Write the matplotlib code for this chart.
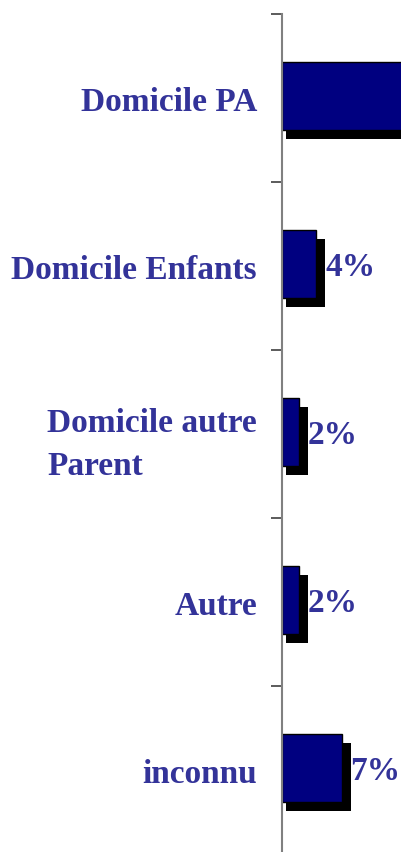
import matplotlib.pyplot as plt
import numpy as np

# données
categories = ['Domicile PA', 'Domicile Enfants', 'Domicile autre\nParent', 'Autre', 'inconnu']
valeurs = [85, 4, 2, 2, 7]
etiquettes = ['85%', '4%', '2%', '2%', '7%']

bleu_texte = '#333399'
bleu_barre = '#000080'
taille = 24

fig = plt.figure(figsize=(4.01, 8.53), dpi=100)
ax = fig.add_axes([282 / 401, -2 / 853, 1 - 282 / 401, 840 / 853])

y = np.arange(len(categories))
px_x = 14.0 / 119   # unités par pixel en x
px_y = 1 / 168      # unités par pixel en y

# ombre portée noire
ax.barh(y + 7 * px_y, [v + 5 * px_x for v in valeurs], left=4 * px_x,
        height=0.41, color='black', zorder=1)
# barres
ax.barh(y - 2 * px_y, valeurs, height=0.41, color=bleu_barre, edgecolor='black',
        linewidth=1, zorder=2)

for yi, v, lab in zip(y, valeurs, etiquettes):
    ax.annotate(lab, (v, yi), xytext=(9, 0), textcoords='offset pixels',
                va='center', ha='left', color=bleu_texte, fontsize=taille,
                fontweight='bold', family='Liberation Serif', annotation_clip=True)

ax.set_xlim(0, 14.0)
ax.set_ylim(4.5, -0.5)

ax.set_yticks(y)
ax.set_yticklabels(categories, fontsize=taille, fontweight='bold', family='Liberation Serif',
                   color=bleu_texte, multialignment='left')
for t in ax.get_yticklabels():
    t.set_linespacing(1.5)
ax.tick_params(axis='y', which='major', length=0, pad=18)
ax.set_yticks(np.arange(-0.5, 5, 1), minor=True)
ax.tick_params(axis='y', which='minor', length=8, width=1.2, color='#404040')
ax.set_xticks([])

for s in ['top', 'right', 'bottom']:
    ax.spines[s].set_visible(False)
ax.spines['left'].set_color('#808080')
ax.spines['left'].set_linewidth(1.5)
ax.spines['left'].set_zorder(3)

fig.savefig('out.png', dpi=100)
